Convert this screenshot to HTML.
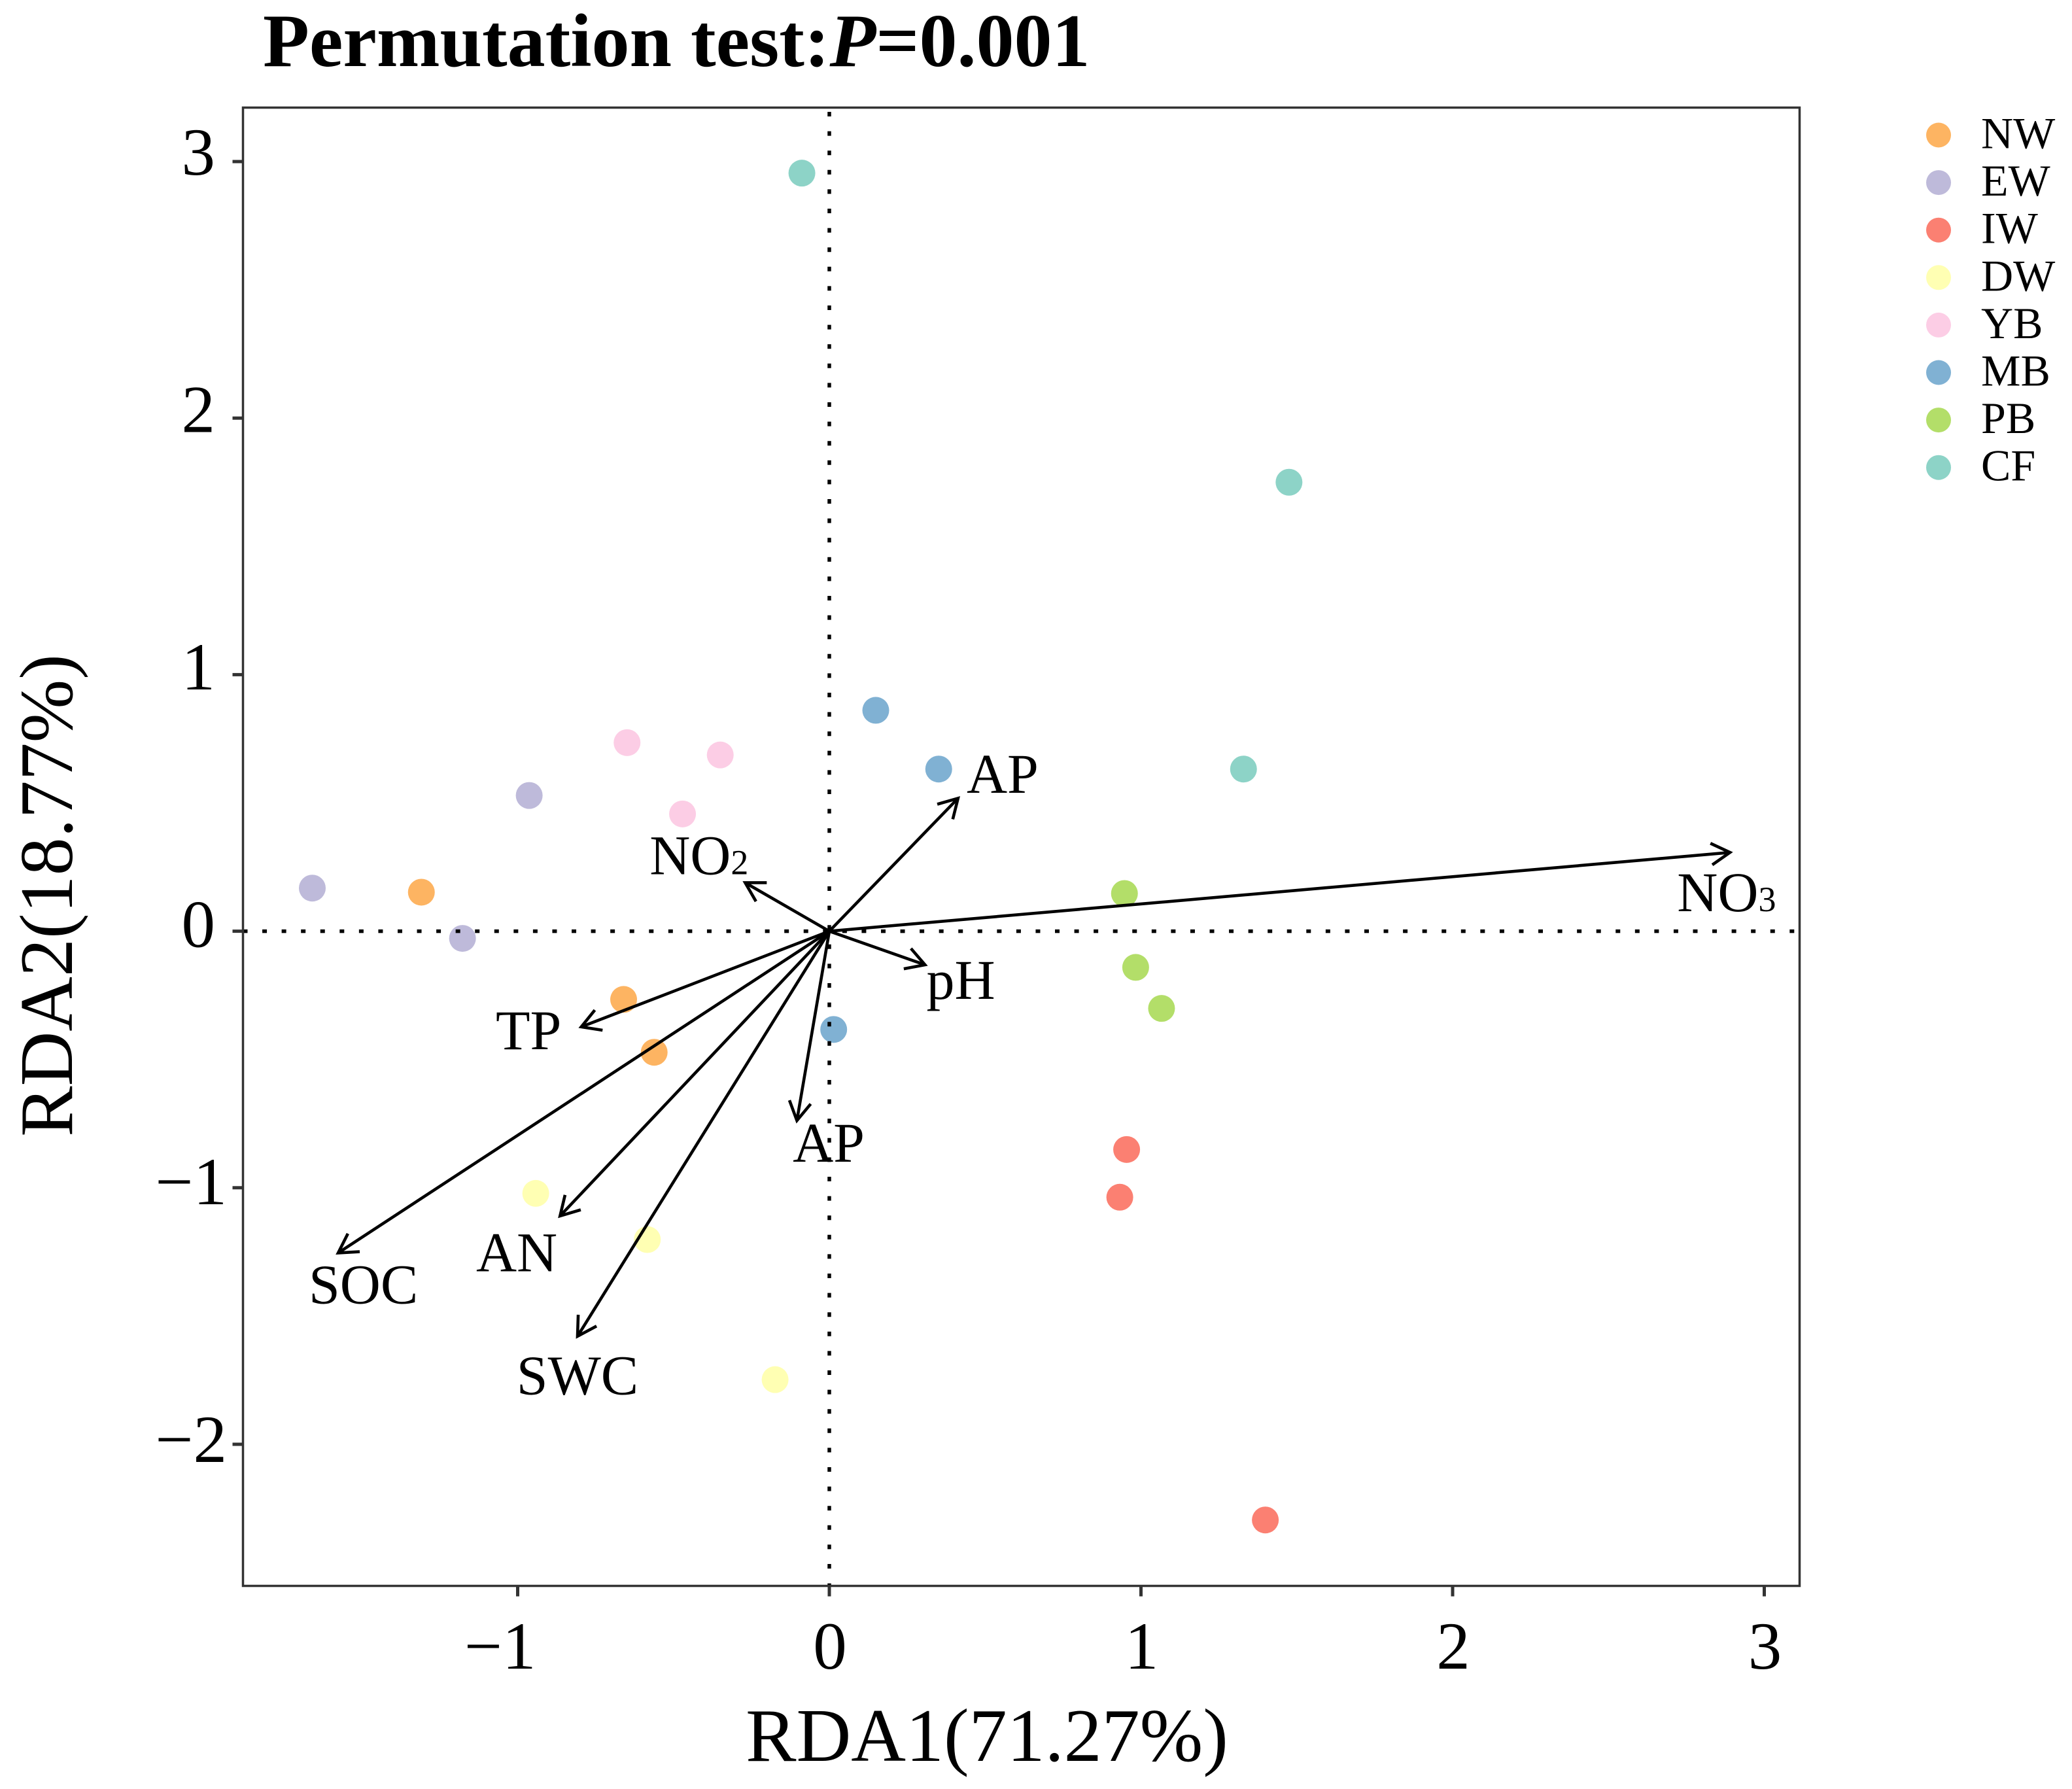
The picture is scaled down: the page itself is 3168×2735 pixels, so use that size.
<!DOCTYPE html>
<html lang="en">
<head>
<meta charset="utf-8">
<title>RDA biplot</title>
<style>
html,body{margin:0;padding:0;background:#fff;width:3168px;height:2735px;overflow:hidden}
svg{display:block}
text{font-family:"Liberation Serif",serif;fill:#000}
</style>
</head>
<body>
<svg id="chart" xmlns="http://www.w3.org/2000/svg" width="3168" height="2735" viewBox="0 0 3168 2735">
  <rect x="0" y="0" width="3168" height="2735" fill="#fff"/>
  <text x="402" y="101" font-size="116" font-weight="bold">Permutation test:<tspan font-style="italic">P</tspan>=0.001</text>
  <text x="1509" y="2692" font-size="116" text-anchor="middle">RDA1(71.27%)</text>
  <text x="110" y="1369" font-size="116" text-anchor="middle" transform="rotate(-90 110 1369)">RDA2(18.77%)</text>
  <g id="points"></g>
  <g id="reflines"></g>
  <g id="arrows"></g>
  <g id="arrowLabels"></g>
  <rect x="371.5" y="164.5" width="2380" height="2260" fill="none" stroke="#333" stroke-width="3.5"/>
  <g id="axes"></g>
  <g id="legend"></g>
</svg>
<script>
const xTicks = [-1, 0, 1, 2, 3];
const yTicks = [-2, -1, 0, 1, 2, 3];

const groupNames = ["NW", "EW", "IW", "DW", "YB", "MB", "PB", "CF"];
const groupColors = ["#FDB462", "#BEBADA", "#FB8072", "#FFFFB3", "#FCCDE5", "#80B1D3", "#B3DE69", "#8DD3C7"];

const nwX = [-1.309, -0.660, -0.562];
const nwY = [0.152, -0.266, -0.472];
const ewX = [-1.659, -0.963, -1.177];
const ewY = [0.168, 0.529, -0.028];
const iwX = [0.954, 0.932, 1.399];
const iwY = [-0.851, -1.037, -2.295];
const dwX = [-0.942, -0.584, -0.174];
const dwY = [-1.022, -1.202, -1.748];
const ybX = [-0.649, -0.350, -0.471];
const ybY = [0.735, 0.687, 0.457];
const mbX = [0.149, 0.351, 0.014];
const mbY = [0.861, 0.632, -0.383];
const pbX = [0.947, 0.983, 1.066];
const pbY = [0.147, -0.141, -0.301];
const cfX = [-0.088, 1.475, 1.329];
const cfY = [2.955, 1.750, 0.632];

const seriesX = [nwX, ewX, iwX, dwX, ybX, mbX, pbX, cfX];
const seriesY = [nwY, ewY, iwY, dwY, ybY, mbY, pbY, cfY];

const arrowNames = ["AP", "NO", "NO", "pH", "AP", "TP", "SOC", "AN", "SWC"];
const arrowSubs = ["", "3", "2", "", "", "", "", "", ""];
const arrowX = [0.413, 2.890, -0.270, 0.307, -0.104, -0.796, -1.576, -0.864, -0.808];
const arrowY = [0.518, 0.307, 0.189, -0.131, -0.738, -0.373, -1.254, -1.110, -1.579];
const arrowLabelX = [0.556, 2.879, -0.418, 0.422, -0.002, -0.965, -1.495, -1.003, -0.808];
const arrowLabelY = [0.539, 0.078, 0.222, -0.264, -0.899, -0.460, -1.450, -1.326, -1.805];

const NS = "http://www.w3.org/2000/svg";
const PANEL = {left: 371.5, right: 2751.5, top: 164.5, bottom: 2424.5};
const sx = v => 1268 + v * 476.5;
const sy = v => 1423.6 - v * 392.2;
const fmt = v => (v < 0 ? "\u2212" + Math.abs(v) : String(v));

function make(tag, attrs, parent, text) {
  const el = document.createElementNS(NS, tag);
  Object.keys(attrs).forEach(k => el.setAttribute(k, attrs[k]));
  if (text !== undefined) el.textContent = text;
  parent.appendChild(el);
  return el;
}

const pointsG = document.getElementById("points");
groupNames.forEach((name, g) => {
  seriesX[g].forEach((x, i) => {
    const c = make("circle", {cx: sx(x), cy: sy(seriesY[g][i]), r: 20.5, fill: groupColors[g]}, pointsG);
    
    
  });
});

const refG = document.getElementById("reflines");
const hLine = make("line", {x1: PANEL.left, y1: sy(0), x2: PANEL.right - 8, y2: sy(0), stroke: "#000", "stroke-width": 5.5, "stroke-dasharray": "7 22.56"}, refG);


const vLine = make("line", {x1: sx(0), y1: 171, x2: sx(0), y2: PANEL.bottom, stroke: "#000", "stroke-width": 5.5, "stroke-dasharray": "7 22.6"}, refG);



const arrowsG = document.getElementById("arrows");
const labelsG = document.getElementById("arrowLabels");
arrowNames.forEach((name, i) => {
  const x0 = sx(0), y0 = sy(0), x1 = sx(arrowX[i]), y1 = sy(arrowY[i]);
  const a = Math.atan2(y1 - y0, x1 - x0);
  const len = 33, spread = Math.PI / 6;
  const hx1 = x1 - len * Math.cos(a - spread), hy1 = y1 - len * Math.sin(a - spread);
  const hx2 = x1 - len * Math.cos(a + spread), hy2 = y1 - len * Math.sin(a + spread);
  const shaft = make("line", {x1: x0, y1: y0, x2: x1, y2: y1, stroke: "#000", "stroke-width": 4.6}, arrowsG);
  
  
  const head = make("polyline", {points: hx1 + "," + hy1 + " " + x1 + "," + y1 + " " + hx2 + "," + hy2, fill: "none", stroke: "#000", "stroke-width": 4.6}, arrowsG);
  
  
  const t = make("text", {x: sx(arrowLabelX[i]), y: sy(arrowLabelY[i]), "font-size": 86, "text-anchor": "middle"}, labelsG, name);
  
  
  if (arrowSubs[i]) {
    const sub = make("tspan", {"font-size": 54}, t, arrowSubs[i]);
    
    
  }
});

const axesG = document.getElementById("axes");
xTicks.forEach(v => {
  const tick = make("line", {x1: sx(v), y1: PANEL.bottom, x2: sx(v), y2: PANEL.bottom + 16, stroke: "#333", "stroke-width": 5}, axesG);
  
  
  const lab = v < 0
    ? make("text", {x: sx(v) + 28, y: 2551, "font-size": 103, "text-anchor": "end"}, axesG, fmt(v))
    : make("text", {x: sx(v) + 1, y: 2551, "font-size": 103, "text-anchor": "middle"}, axesG, fmt(v));
  
  
});
yTicks.forEach(v => {
  const tick = make("line", {x1: PANEL.left - 16, y1: sy(v), x2: PANEL.left, y2: sy(v), stroke: "#333", "stroke-width": 5}, axesG);
  
  
  const lab = make("text", {x: v < 0 ? 347 : 329, y: sy(v) + 24 - 1.4 * v, "font-size": 103, "text-anchor": "end"}, axesG, fmt(v));
  
  
});

const legendG = document.getElementById("legend");
groupNames.forEach((name, i) => {
  const y = 206.5 + i * 72.6;
  const swatch = make("circle", {cx: 2964, cy: y, r: 19, fill: groupColors[i]}, legendG);
  
  
  const label = make("text", {x: 3029, y: y + 20, "font-size": 68}, legendG, name);
  
  
});
</script>
</body>
</html>
